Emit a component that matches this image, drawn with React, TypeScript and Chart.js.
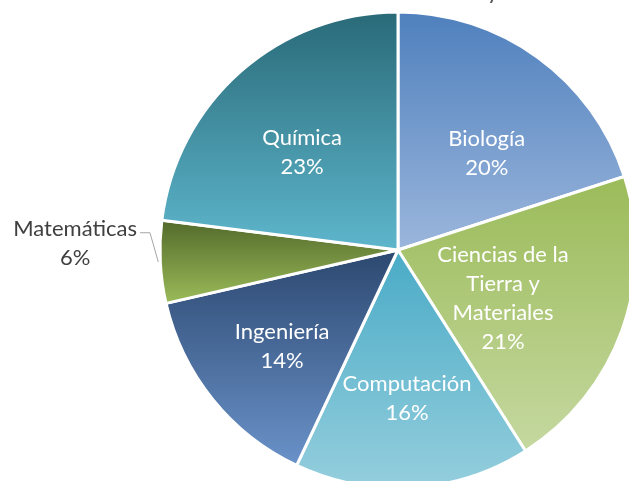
import React, { useEffect, useRef } from 'react';
import { Chart, registerables } from 'chart.js';

Chart.register(...registerables);

// ---- data ----
const categories = ['Biología', 'Ciencias de la Tierra y Materiales', 'Computación', 'Ingeniería', 'Matemáticas', 'Química'];
const labelLines = [['Biología'], ['Ciencias de la', 'Tierra y', 'Materiales'], ['Computación'], ['Ingeniería'], ['Matemáticas'], ['Química']];
const values = [20, 21, 16, 14.4, 5.6, 23];
const titleFragment = 'y';

// ---- styles ----
const gradientTop = ['#4f80bd', '#9bbb59', '#4aabc6', '#2c4870', '#536a2b', '#296a78'];
const gradientBottom = ['#9bb6dc', '#c5d8a0', '#94cedd', '#6a92c9', '#9bbb59', '#5eb6cc'];
const RADIUS = 238;
const FONT = 'Lato, "Open Sans", sans-serif';
const FONT_SIZE = 22;
const LINE_H = 29;
// label placement: angle (deg, clockwise from +x) and radius fraction
const labelPlacement = [
  { a: -47.3, r: 0.55, outside: false },
  { a: 24.8, r: 0.486, outside: false },
  { a: 86.5, r: 0.626, outside: false },
  { a: 140.2, r: 0.634, outside: false },
  { a: 181.2, r: 1.357, outside: true },
  { a: 225.6, r: 0.576, outside: false },
];

const total = values.reduce((s, v) => s + v, 0);

function sliceGradient(ctx: any) {
  const chart = ctx.chart;
  const area = chart.chartArea;
  const i = ctx.dataIndex;
  if (!area || i === undefined) return gradientTop[i || 0];
  const cx = (area.left + area.right) / 2;
  const cy = (area.top + area.bottom) / 2;
  let cum = 0;
  for (let k = 0; k < i; k++) cum += values[k];
  const a0 = -Math.PI / 2 + (2 * Math.PI * cum) / total;
  const a1 = a0 + (2 * Math.PI * values[i]) / total;
  const ys = [cy, cy + RADIUS * Math.sin(a0), cy + RADIUS * Math.sin(a1)];
  for (const ext of [-Math.PI / 2, Math.PI / 2, (3 * Math.PI) / 2]) {
    if (ext >= a0 && ext <= a1) ys.push(cy + RADIUS * Math.sin(ext));
  }
  const yMin = Math.min(...ys);
  const yMax = Math.max(...ys);
  const g = chart.ctx.createLinearGradient(0, yMin, 0, yMax);
  g.addColorStop(0, gradientTop[i]);
  g.addColorStop(1, gradientBottom[i]);
  return g;
}

const labelPlugin = {
  id: 'sliceLabels',
  afterDatasetsDraw(chart: any) {
    const meta = chart.getDatasetMeta(0);
    const ctx = chart.ctx;
    ctx.save();
    ctx.font = `${FONT_SIZE}px ${FONT}`;
    ctx.textAlign = 'center';
    ctx.textBaseline = 'middle';
    meta.data.forEach((arc: any, i: number) => {
      const { x, y, outerRadius, startAngle, endAngle } = arc.getProps(['x', 'y', 'outerRadius', 'startAngle', 'endAngle'], true);
      const p = labelPlacement[i];
      const ang = (p.a * Math.PI) / 180;
      const lx = x + Math.cos(ang) * p.r * outerRadius;
      const ly = y + Math.sin(ang) * p.r * outerRadius;
      const pct = Math.round((values[i] / total) * 100) + '%';
      const lines = [...labelLines[i], pct];
      const top = ly - ((lines.length - 1) * LINE_H) / 2;
      ctx.fillStyle = p.outside ? '#404040' : '#ffffff';
      lines.forEach((t, k) => ctx.fillText(t, lx, top + k * LINE_H));
      if (p.outside) {
        const mid = (startAngle + endAngle) / 2;
        const ex = x + Math.cos(mid) * (outerRadius + 2);
        const ey = y + Math.sin(mid) * (outerRadius + 2);
        const w = ctx.measureText(lines[0]).width;
        const tx = lx + w / 2 + 3;
        const lyLine = top + 4;
        ctx.strokeStyle = '#a6a6a6';
        ctx.lineWidth = 1;
        ctx.beginPath();
        ctx.moveTo(tx, lyLine);
        ctx.lineTo(tx + 10, lyLine);
        ctx.lineTo(ex, ey);
        ctx.stroke();
      }
    });
    // cut-off title fragment at top
    ctx.fillStyle = '#595959';
    ctx.font = `24px ${FONT}`;
    ctx.textBaseline = 'alphabetic';
    ctx.fillText(titleFragment, 493, -1);
    ctx.restore();
  },
};

export default function App() {
  const ref = useRef<HTMLCanvasElement | null>(null);
  useEffect(() => {
    document.body.style.margin = '0';
    if (!ref.current) return;
    const chart = new Chart(ref.current, {
      type: 'pie',
      data: {
        labels: categories,
        datasets: [
          {
            data: values,
            backgroundColor: sliceGradient as any,
            borderColor: '#ffffff',
            borderWidth: 3,
            radius: RADIUS,
            clip: false as any,
          } as any,
        ],
      },
      options: {
        responsive: false,
        animation: false,
        events: [],
        layout: { padding: { left: 167, right: 0, top: 19, bottom: 0 } },
        plugins: {
          legend: { display: false },
          tooltip: { enabled: false },
          title: { display: false },
        },
      },
      plugins: [labelPlugin],
    });
    return () => chart.destroy();
  }, []);
  return (
    <div style={{ position: 'fixed', left: 0, top: 0, width: 629, height: 481, background: '#ffffff' }}>
      <canvas ref={ref} width={629} height={481} />
    </div>
  );
}
